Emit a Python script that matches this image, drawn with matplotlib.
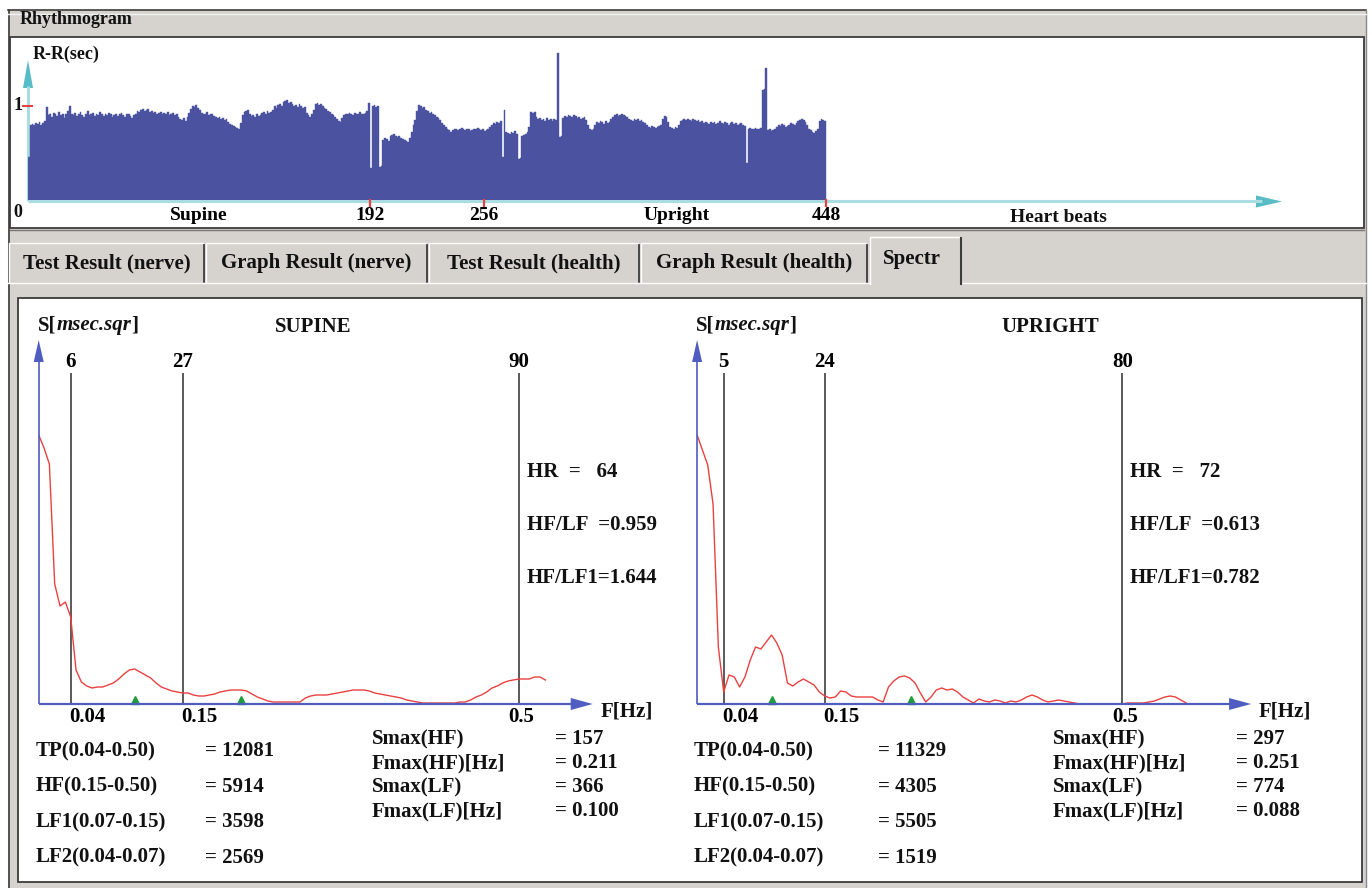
import numpy as np
import matplotlib
matplotlib.use('Agg')
import matplotlib.pyplot as plt
from matplotlib.patches import Rectangle, Polygon

# R-R intervals (sec) for each heart beat
RR_SEC = [
    0.46, 0.80, 0.81, 0.80, 0.82, 0.81, 0.83, 0.80, 0.82, 0.84, 0.99, 0.90, 0.92, 0.88, 0.93, 0.91,
    0.89, 0.94, 0.90, 0.92, 0.87, 0.91, 0.95, 1.00, 0.92, 0.90, 0.93, 0.89, 0.91, 0.94, 0.90, 0.88,
    0.92, 0.95, 0.90, 0.91, 0.93, 0.89, 0.92, 0.90, 0.94, 0.91, 0.89, 0.92, 0.90, 0.93, 0.91, 0.88,
    0.90, 0.92, 0.89, 0.91, 0.93, 0.90, 0.88, 0.91, 0.92, 0.89, 0.87, 0.90, 0.92, 0.95, 0.94, 0.96,
    0.97, 0.95, 0.96, 0.97, 0.94, 0.95, 0.93, 0.94, 0.92, 0.93, 0.94, 0.91, 0.93, 0.92, 0.94, 0.90,
    0.92, 0.93, 0.90, 0.91, 0.88, 0.86, 0.85, 0.87, 0.84, 0.88, 0.93, 0.97, 1.00, 0.99, 1.01, 0.98,
    0.96, 0.93, 0.91, 0.92, 0.94, 0.90, 0.92, 0.91, 0.89, 0.88, 0.87, 0.88, 0.86, 0.87, 0.85, 0.86,
    0.83, 0.81, 0.80, 0.79, 0.78, 0.77, 0.76, 0.82, 0.90, 0.94, 0.95, 0.96, 0.91, 0.89, 0.90, 0.88,
    0.91, 0.89, 0.90, 0.93, 0.94, 0.92, 0.95, 0.93, 0.94, 0.96, 1.00, 0.98, 1.01, 1.02, 1.00, 1.04,
    1.05, 1.06, 1.03, 1.04, 1.02, 1.00, 1.01, 0.99, 1.02, 1.00, 0.98, 0.99, 0.93, 0.90, 0.88, 0.91,
    0.96, 1.02, 1.03, 1.01, 1.02, 1.00, 0.98, 0.97, 0.95, 0.94, 0.92, 0.90, 0.88, 0.86, 0.84, 0.83,
    0.87, 0.90, 0.92, 0.91, 0.93, 0.92, 0.90, 0.93, 0.91, 0.92, 0.94, 0.92, 0.91, 0.93, 0.95, 1.03,
    0.34, 1.00, 1.01, 0.99, 1.00, 0.35, 0.36, 0.64, 0.66, 0.65, 0.63, 0.68, 0.69, 0.70, 0.68, 0.67,
    0.68, 0.66, 0.65, 0.64, 0.63, 0.62, 0.66, 0.72, 0.80, 0.85, 0.95, 1.01, 1.00, 0.98, 0.99, 0.96,
    0.95, 0.93, 0.94, 0.91, 0.90, 0.88, 0.87, 0.85, 0.82, 0.80, 0.78, 0.76, 0.74, 0.72, 0.74, 0.75,
    0.76, 0.74, 0.75, 0.77, 0.75, 0.74, 0.76, 0.75, 0.73, 0.74, 0.76, 0.75, 0.77, 0.76, 0.74, 0.75,
    0.73, 0.74, 0.76, 0.78, 0.80, 0.82, 0.81, 0.83, 0.82, 0.84, 0.46, 0.96, 0.72, 0.71, 0.70, 0.72,
    0.71, 0.73, 0.70, 0.44, 0.45, 0.68, 0.69, 0.70, 0.72, 0.78, 0.94, 0.93, 0.94, 0.88, 0.86, 0.87,
    0.85, 0.86, 0.84, 0.87, 0.85, 0.86, 0.84, 0.86, 0.85, 1.56, 0.67, 0.68, 0.87, 0.89, 0.88, 0.90,
    0.89, 0.88, 0.90, 0.89, 0.87, 0.88, 0.86, 0.87, 0.88, 0.85, 0.80, 0.75, 0.74, 0.76, 0.80, 0.83,
    0.82, 0.84, 0.83, 0.81, 0.84, 0.82, 0.83, 0.86, 0.88, 0.90, 0.91, 0.89, 0.90, 0.91, 0.90, 0.89,
    0.88, 0.86, 0.85, 0.84, 0.86, 0.85, 0.86, 0.84, 0.85, 0.83, 0.82, 0.80, 0.78, 0.77, 0.79, 0.78,
    0.77, 0.78, 0.79, 0.80, 0.86, 0.89, 0.88, 0.83, 0.78, 0.77, 0.76, 0.78, 0.77, 0.80, 0.84, 0.85,
    0.86, 0.85, 0.86, 0.85, 0.84, 0.86, 0.85, 0.84, 0.85, 0.83, 0.84, 0.82, 0.83, 0.82, 0.81, 0.83,
    0.82, 0.83, 0.81, 0.82, 0.84, 0.82, 0.81, 0.83, 0.82, 0.80, 0.82, 0.83, 0.81, 0.82, 0.80, 0.81,
    0.82, 0.80, 0.79, 0.39, 0.76, 0.77, 0.75, 0.76, 0.77, 0.76, 0.75, 0.77, 1.17, 1.18, 1.40, 0.74,
    0.75, 0.73, 0.74, 0.76, 0.78, 0.80, 0.79, 0.81, 0.80, 0.78, 0.79, 0.80, 0.82, 0.81, 0.80, 0.82,
    0.84, 0.85, 0.86, 0.85, 0.83, 0.80, 0.76, 0.74, 0.72, 0.71, 0.73, 0.76, 0.84, 0.86, 0.85, 0.84,
]
BEAT_TICKS = [192, 256, 448]
PHASE_LABELS = ['Supine', 'Upright']
PHASE_LABEL_BEATS = [96, 364]

# spectral density per frequency bin (relative units)
SUPINE_S = [
    269, 256, 240, 120, 98, 102, 87, 34, 22, 18, 16, 17, 17, 19, 21, 25,
    30, 34, 35, 32, 29, 26, 21, 17, 15, 13, 12, 11, 11, 9, 8, 8,
    9, 10, 12, 13, 14, 14, 14, 13, 10, 7, 5, 3, 2, 2, 2, 2,
    2, 2, 6, 8, 9, 9, 9, 10, 11, 12, 13, 14, 14, 14, 13, 11,
    10, 9, 8, 7, 6, 4, 3, 2, 1, 1, 1, 1, 1, 1, 1, 2,
    2, 4, 7, 9, 12, 16, 18, 21, 23, 24, 25, 25, 25, 27, 27, 24,
]
UPRIGHT_S = [
    269, 254, 239, 200, 57, 12, 29, 27, 17, 27, 44, 57, 55, 62, 69, 61,
    49, 21, 18, 22, 25, 22, 19, 12, 8, 6, 7, 13, 12, 8, 7, 7,
    7, 7, 4, 2, 17, 23, 27, 28, 26, 21, 11, 2, 7, 14, 16, 14,
    15, 12, 7, 4, 1, 5, 3, 2, 4, 3, 1, 3, 2, 4, 7, 9,
    7, 4, 2, 3, 4, 3, 2, 1, 0, 0, 0, 0, 0, 0, 0, 0,
    0, 1, 1, 1, 1, 2, 3, 5, 7, 8, 7, 4, 1,
]
SUPINE_BAND_BINS = [6, 27, 90]
UPRIGHT_BAND_BINS = [5, 24, 80]
BAND_FREQS = ['0.04', '0.15', '0.5']

SUPINE_HR = ['HR  =   64', 'HF/LF  =0.959', 'HF/LF1=1.644']
UPRIGHT_HR = ['HR  =   72', 'HF/LF  =0.613', 'HF/LF1=0.782']

POWER_LABELS = ['TP(0.04-0.50)', 'HF(0.15-0.50)', 'LF1(0.07-0.15)', 'LF2(0.04-0.07)']
SUPINE_POWER = ['12081', '5914', '3598', '2569']
UPRIGHT_POWER = ['11329', '4305', '5505', '1519']

PEAK_LABELS = ['Smax(HF)', 'Fmax(HF)[Hz]', 'Smax(LF)', 'Fmax(LF)[Hz]']
SUPINE_PEAK = ['157', '0.211', '366', '0.100']
UPRIGHT_PEAK = ['297', '0.251', '774', '0.088']
SUPINE_FMAX = [0.211, 0.100]
UPRIGHT_FMAX = [0.251, 0.088]

W, H = 1372, 888
plt.rcParams['font.family'] = ['Liberation Serif', 'DejaVu Serif']
plt.rcParams['font.weight'] = 'bold'

GRAY = '#d6d3ce'
DARK = '#3c3c3c'
BAR = '#4b52a0'
CYAN_LINE = '#a9dde2'
CYAN_HEAD = '#57bcc6'
BLUE = '#4f5cc0'
RED = '#e8413f'
GREEN = '#1f9a3c'

fig = plt.figure(figsize=(W / 100, H / 100), dpi=100)
fig.patch.set_facecolor('white')


def pixel_axes(z):
    a = fig.add_axes([0, 0, 1, 1], zorder=z)
    a.set_xlim(0, W)
    a.set_ylim(H, 0)
    a.axis('off')
    a.patch.set_alpha(0)
    return a


def px_axes(x0, y0, x1, y1):
    a = fig.add_axes([x0 / W, 1 - y1 / H, (x1 - x0) / W, (y1 - y0) / H], zorder=1)
    a.axis('off')
    a.patch.set_alpha(0)
    return a


bg = pixel_axes(0)
over = pixel_axes(2)


def txt(x, y, s, size=15, ax=None, **kw):
    kw.setdefault('va', 'center')
    return (ax or over).text(x, y, s, fontsize=size, fontweight='bold', color='#111111', **kw)


# ---- window chrome ----
bg.add_patch(Rectangle((8, 10), 1358, 878, fc=GRAY, ec='none'))
bg.plot([8, 1366], [10.5, 10.5], color=DARK, lw=1.2)
bg.plot([8.5, 8.5], [10, 888], color=DARK, lw=1.2)
bg.plot([1366, 1366], [10, 888], color='#888888', lw=1)
bg.plot([8, 1366], [14, 14], color='#f2f2f2', lw=1)
bg.add_patch(Rectangle((10, 37), 1354, 191, fc='white', ec=DARK, lw=1.3))
bg.plot([10, 1364], [230, 230], color='#777777', lw=1)
txt(20, 20, 'Rhythmogram', size=13, ax=bg)

# tabs
tabs = [('Test Result (nerve)', 8, 205), ('Graph Result (nerve)', 205, 428),
        ('Test Result (health)', 428, 640), ('Graph Result (health)', 640, 868)]
for name, x0, x1 in tabs:
    bg.plot([x0 + 1, x0 + 1, x1 - 2], [282, 243, 243], color='white', lw=1)
    bg.plot([x1 - 1, x1 - 1], [245, 282], color=DARK, lw=1.3)
    txt((x0 + x1) / 2, 263, name, ax=bg, ha='center')
bg.plot([8, 870], [283, 283], color='white', lw=1)
bg.plot([962, 1366], [283, 283], color='white', lw=1)
bg.plot([870, 870, 960], [284, 237, 237], color='white', lw=1)
bg.plot([961, 961], [238, 284], color=DARK, lw=1.5)
txt(912, 259, 'Spectr', ax=bg, ha='center')

bg.add_patch(Rectangle((18, 298), 1344, 584, fc='white', ec=DARK, lw=1.3))

# ---- rhythmogram ----
PX_BEAT = 1.781
PX_SEC = 94.0
rx0, rbase = 28, 200
rh = px_axes(rx0, 40, 1290, rbase)
rh.set_xlim(0, (1290 - rx0) / PX_BEAT)
rh.set_ylim(0, (rbase - 40) / PX_SEC)
beats = np.arange(len(RR_SEC))
rh.bar(beats, RR_SEC, width=1.0, align='edge', color=BAR, edgecolor=BAR, linewidth=0.3)

bg.plot([rx0, 1262], [201.5, 201.5], color=CYAN_LINE, lw=2.2, solid_capstyle='butt')
bg.add_patch(Polygon([[1256, 195.5], [1282, 201.5], [1256, 207.5]], fc=CYAN_HEAD, ec='none'))
bg.plot([rx0, rx0], [201, 86], color=CYAN_LINE, lw=2.2, solid_capstyle='butt')
bg.add_patch(Polygon([[rx0 - 5, 88], [rx0, 60], [rx0 + 5, 88]], fc=CYAN_HEAD, ec='none'))
over.plot([23, 32], [106, 106], color=RED, lw=1.5)
for b in BEAT_TICKS:
    rh.plot([b, b], [0, -6 / PX_SEC], color=RED, lw=1.6, clip_on=False)
    rh.text(b, -16 / PX_SEC, str(b), ha='center', va='center', fontsize=14, fontweight='bold')
for name, b in zip(PHASE_LABELS, PHASE_LABEL_BEATS):
    rh.text(b, -16 / PX_SEC, name, ha='center', va='center', fontsize=14, fontweight='bold')
txt(33, 54, 'R-R(sec)', size=13)
txt(14, 106, '1', size=13)
txt(13, 212, '0', size=13)
txt(1058, 217, 'Heart beats', size=14, ha='center')


# ---- spectra ----
def spectrum(x_origin, px_bin, spec, band_bins, fmax, title, title_x, hr_lines, hr_x,
             powers, power_x, peaks, peak_x, x_end):
    base, top = 704, 330
    ax = px_axes(x_origin, top, x_end, base)
    ax.set_xlim(0, (x_end - x_origin) / px_bin)
    ax.set_ylim(0, base - top)
    ax.vlines(band_bins, 0, 331, color='#2e2e2e', lw=1.1, zorder=1)
    ax.plot(np.arange(len(spec)), spec, color=RED, lw=1.0, zorder=2)
    for b, f in zip(band_bins, BAND_FREQS):
        ax.text(b, 342, str(b), ha='center', va='center', fontsize=15, fontweight='bold')
        if f == '0.5':
            ax.text(b + 0.5, -13, f, ha='center', va='center', fontsize=15, fontweight='bold')
        else:
            ax.text(b - 0.3, -13, f, ha='left', va='center', fontsize=15, fontweight='bold')
    tri_bins = [f / 0.5 * band_bins[2] for f in fmax]
    ax.plot(tri_bins, [4, 4], ls='none', marker='^', ms=6, color=GREEN, clip_on=False, zorder=3)

    # axes with arrows, drawn on top
    xa = x_origin
    over.plot([xa, xa + 534], [base, base], color=BLUE, lw=1.6, solid_capstyle='butt')
    over.add_patch(Polygon([[xa + 532, base - 6], [xa + 554, base], [xa + 532, base + 6]],
                           fc=BLUE, ec='none'))
    over.plot([xa, xa], [base, 360], color=BLUE, lw=1.2, solid_capstyle='butt')
    over.add_patch(Polygon([[xa - 5, 362], [xa, 340], [xa + 5, 362]], fc=BLUE, ec='none'))
    txt(xa + 562, 711, 'F[Hz]')

    s1 = txt(xa - 1, 325, 'S[')
    s2 = over.annotate('msec.sqr', xy=(1, 0), xycoords=s1, ha='left', va='bottom',
                       fontsize=15, fontweight='bold', style='italic', color='#111111')
    over.annotate(']', xy=(1, 0), xycoords=s2, ha='left', va='bottom',
                  fontsize=15, fontweight='bold', color='#111111')
    txt(title_x, 327, title, ha='center')

    for i, line in enumerate(hr_lines):
        txt(hr_x, 472 + i * 53, line)
    for i, (lab, val) in enumerate(zip(POWER_LABELS, powers)):
        y = 751 + i * 35.5
        txt(xa - 3, y, lab)
        txt(power_x, y, '= ' + val)
    for i, (lab, val) in enumerate(zip(PEAK_LABELS, peaks)):
        y = 739 + i * 24
        txt(peak_x, y, lab)
        txt(peak_x + 183, y, '= ' + val)


spectrum(38.7, 5.333, SUPINE_S, SUPINE_BAND_BINS, SUPINE_FMAX, 'SUPINE', 313,
         SUPINE_HR, 527, SUPINE_POWER, 205, SUPINE_PEAK, 372, 605)
spectrum(697.1, 5.316, UPRIGHT_S, UPRIGHT_BAND_BINS, UPRIGHT_FMAX, 'UPRIGHT', 1050,
         UPRIGHT_HR, 1130, UPRIGHT_POWER, 878, UPRIGHT_PEAK, 1053, 1275)

fig.savefig('out.png', dpi=100)
